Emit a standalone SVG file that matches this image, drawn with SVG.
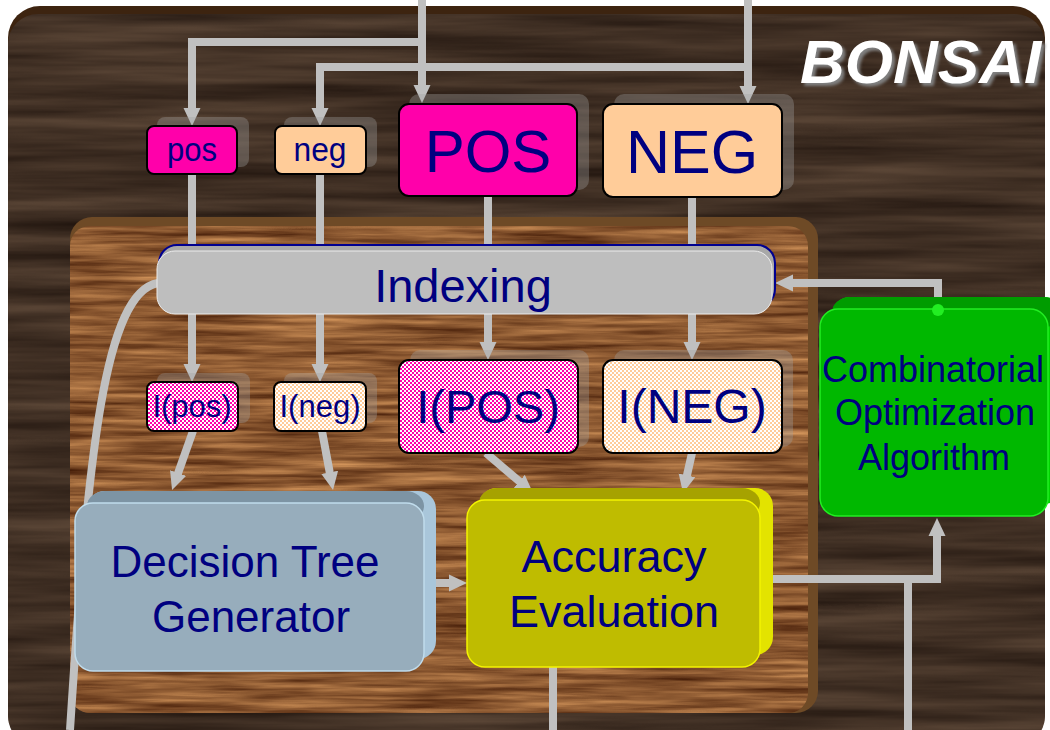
<svg xmlns="http://www.w3.org/2000/svg" width="1050" height="730" viewBox="0 0 1050 730">
<defs>
<style>
.t{font-family:"Liberation Sans",Arial,sans-serif;fill:#000080;text-anchor:middle}
.ln{fill:none;stroke:#c0c0c0;stroke-width:8}
.sh{fill:#a0a0a0;fill-opacity:0.35}
.bx{stroke:#000;stroke-width:2}
</style>
<filter id="woodDark" filterUnits="userSpaceOnUse" x="0" y="0" width="1050" height="730" color-interpolation-filters="sRGB">
<feTurbulence type="fractalNoise" baseFrequency="0.003 0.06" numOctaves="4" seed="7" result="n"/>
<feColorMatrix in="n" type="matrix" values="0.32 0 0 0 0.09  0.27 0 0 0 0.05  0.22 0 0 0 0.03  0 0 0 0 1" result="c"/>
<feComposite in="c" in2="SourceGraphic" operator="in"/>
</filter>
<filter id="woodLight" filterUnits="userSpaceOnUse" x="0" y="0" width="1050" height="730" color-interpolation-filters="sRGB">
<feTurbulence type="fractalNoise" baseFrequency="0.008 0.16" numOctaves="4" seed="3" result="n"/>
<feColorMatrix in="n" type="matrix" values="0.65 0 0 0 0.22  0.55 0 0 0 0.07  0.38 0 0 0 0.0  0 0 0 0 1" result="c"/>
<feComposite in="c" in2="SourceGraphic" operator="in"/>
</filter>
<filter id="txtShadow" x="-10%" y="-20%" width="130%" height="150%" color-interpolation-filters="sRGB">
<feGaussianBlur in="SourceAlpha" stdDeviation="1.5"/>
<feOffset dx="3" dy="3" result="b"/>
<feFlood flood-color="#808080"/>
<feComposite in2="b" operator="in" result="s"/>
<feMerge><feMergeNode in="s"/><feMergeNode in="SourceGraphic"/></feMerge>
</filter>
<pattern id="chkPink" width="4" height="4" patternUnits="userSpaceOnUse">
<rect width="4" height="4" fill="#ffffff"/>
<rect width="2" height="2" fill="#ff00aa"/>
<rect x="2" y="2" width="2" height="2" fill="#ff00aa"/>
</pattern>
<pattern id="chkPeach" width="4" height="4" patternUnits="userSpaceOnUse">
<rect width="4" height="4" fill="#ffffff"/>
<rect width="2" height="2" fill="#ffcc99"/>
<rect x="2" y="2" width="2" height="2" fill="#ffcc99"/>
</pattern>
<marker id="arr" markerUnits="userSpaceOnUse" markerWidth="18" markerHeight="18" viewBox="0 0 18 18" refX="8" refY="9" orient="auto">
<path d="M0,0.5 L18,9 L0,17.5 Z" fill="#c0c0c0"/>
</marker>
</defs>

<rect width="1050" height="730" fill="#ffffff"/>
<g id="background">
<rect x="8" y="6" width="1037" height="740" rx="32" fill="#3d2410"/>
<rect x="8" y="14" width="1037" height="732" rx="30" fill="#3d2e24" filter="url(#woodDark)"/>
<rect x="70" y="217" width="748" height="496" rx="22" fill="#6e4a26"/>
<rect x="70" y="226" width="738" height="487" rx="20" fill="#8b5a30" filter="url(#woodLight)"/>
<text x="800" y="83" font-family="Liberation Sans, Arial, sans-serif" font-weight="bold" font-style="italic" font-size="62" fill="#ffffff" filter="url(#txtShadow)">BONSAI</text>
</g>

<g id="connectors">
<path class="ln" d="M422,42 H192 V116" marker-end="url(#arr)"/>
<path class="ln" d="M422,0 V93" marker-end="url(#arr)"/>
<path class="ln" d="M748,0 V94" marker-end="url(#arr)"/>
<path class="ln" d="M748,67 H320 V116" marker-end="url(#arr)"/>
<path class="ln" d="M192,174 V372" marker-end="url(#arr)"/>
<path class="ln" d="M320,174 V372" marker-end="url(#arr)"/>
<path class="ln" d="M488,196 V350" marker-end="url(#arr)"/>
<path class="ln" d="M692,197 V350" marker-end="url(#arr)"/>
<path class="ln" d="M193,431 L175.4,480.6" marker-end="url(#arr)"/>
<path class="ln" d="M322,431 L331.2,480.2" marker-end="url(#arr)"/>
<path class="ln" d="M486,453 L525.4,486.5" marker-end="url(#arr)"/>
<path class="ln" d="M692,453 L685.2,483.2" marker-end="url(#arr)"/>
<path class="ln" d="M436,583 H457" marker-end="url(#arr)"/>
<path class="ln" d="M938,310 V283 H785" marker-end="url(#arr)"/>
<path class="ln" d="M773,579 H937 V528" marker-end="url(#arr)"/>
<path class="ln" d="M908,579 V730"/>
<path class="ln" d="M553,667 V730"/>
<path class="ln" d="M158,283 C105,292 88,450 70,730"/>
</g>

<g id="node-pos">
<rect class="sh" x="157" y="117" width="92" height="50" rx="8"/>
<rect class="bx" x="147" y="126" width="90" height="48" rx="7" fill="#ff00aa"/>
<text class="t" x="192" y="161" font-size="33" textLength="50" lengthAdjust="spacingAndGlyphs">pos</text>
</g>
<g id="node-neg">
<rect class="sh" x="284" y="117" width="93" height="50" rx="8"/>
<rect class="bx" x="275" y="126" width="91" height="48" rx="7" fill="#ffcc99"/>
<text class="t" x="320" y="161" font-size="33" textLength="53" lengthAdjust="spacingAndGlyphs">neg</text>
</g>
<g id="node-POS">
<rect class="sh" x="409" y="94" width="180" height="96" rx="10"/>
<rect class="bx" x="399" y="104" width="178" height="92" rx="10" fill="#ff00aa"/>
<text class="t" x="488" y="172" font-size="60">POS</text>
</g>
<g id="node-NEG">
<rect class="sh" x="614" y="94" width="180" height="96" rx="10"/>
<rect class="bx" x="603" y="104" width="179" height="93" rx="10" fill="#ffcc99"/>
<text class="t" x="692" y="173" font-size="61">NEG</text>
</g>

<g id="node-indexing">
<rect x="159" y="245" width="616" height="62" rx="18" fill="#a8a8a8" stroke="#000090" stroke-width="2"/>
<rect x="157" y="251" width="615" height="63" rx="18" fill="#bebebe" stroke="#ececec" stroke-width="1"/>
<text class="t" x="463" y="302" font-size="47">Indexing</text>
</g>

<g id="node-Ipos">
<rect class="sh" x="157" y="373" width="93" height="50" rx="8"/>
<rect class="bx" x="147" y="382" width="91" height="49" rx="7" fill="url(#chkPink)"/>
<text class="t" x="192" y="417" font-size="31">I(pos)</text>
</g>
<g id="node-Ineg">
<rect class="sh" x="284" y="373" width="93" height="50" rx="8"/>
<rect class="bx" x="274" y="382" width="92" height="49" rx="7" fill="url(#chkPeach)"/>
<text class="t" x="320" y="417" font-size="31">I(neg)</text>
</g>
<g id="node-IPOS">
<rect class="sh" x="410" y="350" width="179" height="97" rx="10"/>
<rect class="bx" x="399" y="360" width="179" height="93" rx="10" fill="url(#chkPink)"/>
<text class="t" x="488" y="423" font-size="47">I(POS)</text>
</g>
<g id="node-INEG">
<rect class="sh" x="614" y="350" width="179" height="97" rx="10"/>
<rect class="bx" x="603" y="360" width="179" height="93" rx="10" fill="url(#chkPeach)"/>
<text class="t" x="692" y="423" font-size="48">I(NEG)</text>
</g>

<g id="node-decision-tree-generator">
<rect x="87" y="491" width="349" height="168" rx="18" fill="#a9c6da"/>
<rect x="87" y="491" width="337" height="30" rx="18" fill="#7d94a4"/>
<rect x="75" y="503" width="349" height="168" rx="18" fill="#97adbc" stroke="#c0dcec" stroke-width="1.5"/>
<text class="t" x="245" y="577" font-size="44">Decision Tree</text>
<text class="t" x="251" y="632" font-size="44">Generator</text>
</g>

<g id="node-accuracy-evaluation">
<rect x="479" y="488" width="294" height="167" rx="18" fill="#e3e300"/>
<rect x="479" y="488" width="281" height="30" rx="18" fill="#a6a200"/>
<rect x="467" y="500" width="293" height="167" rx="18" fill="#bfbc00" stroke="#f4f400" stroke-width="1.5"/>
<text class="t" x="614" y="572" font-size="45">Accuracy</text>
<text class="t" x="614" y="627" font-size="45">Evaluation</text>
</g>

<g id="node-combinatorial">
<rect x="832" y="297" width="230" height="207" rx="18" fill="#00d400"/>
<rect x="832" y="297" width="230" height="30" rx="18" fill="#009c00"/>
<rect x="820" y="309" width="228" height="207" rx="18" fill="#00b800" stroke="#22ee22" stroke-width="1.5"/>
<circle cx="938" cy="310" r="6" fill="#22ee22"/>
<text class="t" x="933" y="382" font-size="36">Combinatorial</text>
<text class="t" x="935" y="425" font-size="36">Optimization</text>
<text class="t" x="934" y="470" font-size="36">Algorithm</text>
</g>
</svg>
